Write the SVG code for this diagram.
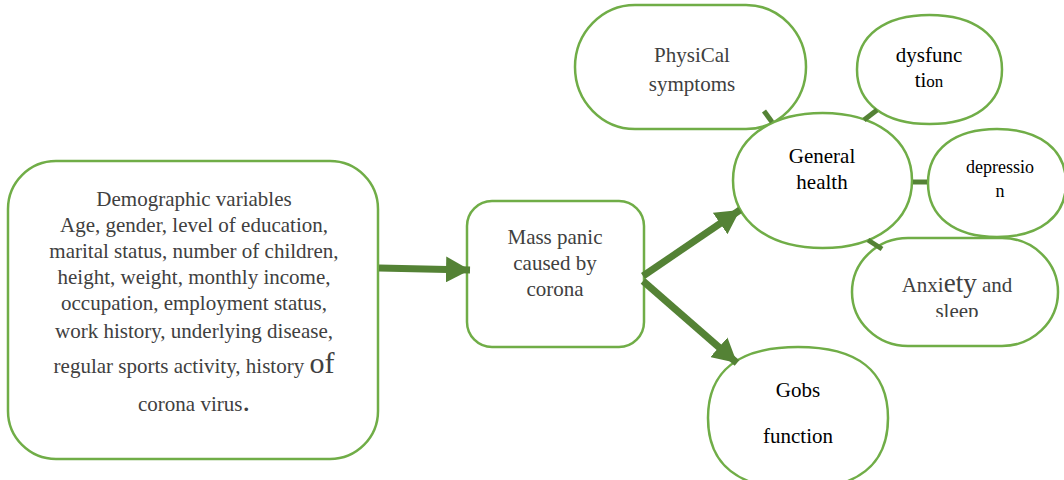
<svg xmlns="http://www.w3.org/2000/svg" width="1064" height="480" viewBox="0 0 1064 480" font-family="Liberation Serif, DejaVu Serif, serif">
<style>
.node{fill:#fff;stroke:#70AD47;stroke-width:2.5}
text{font-family:"Liberation Serif","DejaVu Serif",serif;font-size:21px;text-anchor:middle}
.g{fill:#404040}
.b{fill:#000}
.arr{stroke:#548235;stroke-width:7;fill:none}
.tick{stroke:#548235;stroke-width:5;fill:none}
</style>
<defs>
<marker id="ah" markerUnits="userSpaceOnUse" markerWidth="26" markerHeight="26" refX="24" refY="13" orient="auto">
<path d="M0,0 L24,13 L0,26 Z" fill="#548235"/>
</marker>
<clipPath id="anxClip"><rect x="852" y="238" width="210" height="79"/></clipPath>
</defs>
<rect width="1064" height="480" fill="#fff"/>

<g id="demographic">
<rect class="node" x="8" y="161" width="370" height="298" rx="48"/>
<text class="g" x="194" y="206">Demographic variables</text>
<text class="g" x="194" y="232">Age, gender, level of education,</text>
<text class="g" x="194" y="258">marital status, number of children,</text>
<text class="g" x="194" y="284">height, weight, monthly income,</text>
<text class="g" x="194" y="310">occupation, employment status,</text>
<text class="g" x="194" y="338">work history, underlying disease,</text>
<text class="g" x="194" y="373">regular sports activity, history <tspan font-size="30">of</tspan></text>
<text class="g" x="194" y="411">corona virus<tspan font-size="30">.</tspan></text>
</g>

<g id="mass-panic">
<rect class="node" x="467" y="201" width="177" height="146" rx="25"/>
<text class="g" x="555" y="244">Mass panic</text>
<text class="g" x="555" y="270">caused by</text>
<text class="g" x="555" y="296">corona</text>
</g>

<g id="physical-symptoms">
<rect class="node" x="575" y="5" width="231" height="124" rx="60" ry="62"/>
<text class="g" x="692" y="62">PhysiCal</text>
<text class="g" x="692" y="91">symptoms</text>
</g>

<g id="dysfunction">
<path class="node" d="M929.5,15 C974.5,15 1002,35.7 1002,69.5 C1002,103.3 974.5,124 929.5,124 C884.5,124 857,103.3 857,69.5 C857,35.7 884.5,15 929.5,15 Z"/>
<text class="b" x="929" y="62">dysfunc</text>
<text class="b" x="929" y="87">ti<tspan font-size="17">on</tspan></text>
</g>

<g id="depression">
<path class="node" d="M997,129 C1039.8,129 1066,149.5 1066,183 C1066,216.5 1039.8,237 997,237 C954.2,237 928,216.5 928,183 C928,149.5 954.2,129 997,129 Z"/>
<text class="b" x="1000" y="173" style="font-size:18px">depressio</text>
<text class="b" x="1000" y="197" style="font-size:18px">n</text>
</g>

<g id="anxiety-sleep">
<rect class="node" x="852" y="238" width="206" height="108" rx="56" ry="54"/>
<g clip-path="url(#anxClip)">
<text class="g" x="957" y="292">Anxi<tspan font-size="27">ety</tspan> and</text>
<text class="g" x="957" y="318">sleep</text>
</g>
</g>

<g id="general-health">
<path class="node" d="M822.5,113 C876.2,113 912,140 912,180.5 C912,221 876.2,248 822.5,248 C768.8,248 733,221 733,180.5 C733,140 768.8,113 822.5,113 Z"/>
<text class="b" x="822" y="163">General</text>
<text class="b" x="822" y="189">health</text>
</g>

<g id="gobs-function">
<path class="node" d="M798,347 C857.4,347 888,371.1 888,418 C888,464.9 857.4,489 798,489 C738.6,489 708,464.9 708,418 C708,371.1 738.6,347 798,347 Z"/>
<text class="b" x="798" y="397">Gobs</text>
<text class="b" x="798" y="443">function</text>
</g>

<g id="connectors">
<line class="arr" x1="379" y1="268" x2="470" y2="270" marker-end="url(#ah)"/>
<line class="arr" x1="643" y1="276" x2="740" y2="210" marker-end="url(#ah)"/>
<line class="arr" x1="643" y1="281" x2="737" y2="363" marker-end="url(#ah)"/>
<line class="tick" x1="764" y1="111" x2="772" y2="122"/>
<line class="tick" x1="877" y1="110" x2="864" y2="120"/>
<line class="tick" x1="913" y1="182" x2="927" y2="182"/>
<line class="tick" x1="868" y1="240" x2="882" y2="249"/>
</g>
</svg>
